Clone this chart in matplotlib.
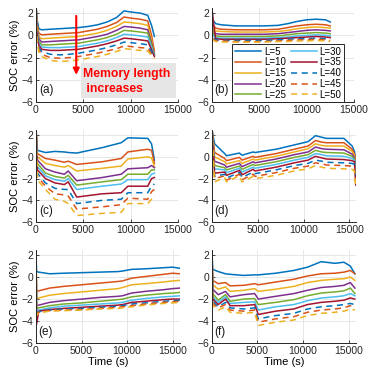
import numpy as np
import matplotlib.pyplot as plt
from matplotlib.patches import Rectangle

plt.rcParams['font.family'] = ['Liberation Sans', 'DejaVu Sans']

labels = ['L=5', 'L=10', 'L=15', 'L=20', 'L=25', 'L=30', 'L=35', 'L=40', 'L=45', 'L=50']

# (a)
t_a = [0, 100, 300, 600, 1500, 2500, 3500, 4500, 5500, 6500, 7500, 8500, 9300, 10000, 11000, 11800, 12200, 12500]
soc_a = [
    [2.8, 1.5, 0.6, 0.5, 0.55, 0.6, 0.65, 0.7, 0.8, 0.95, 1.2, 1.6, 2.2, 2.1, 2.0, 1.8, 0.9, -0.1],
    [2.8, 1.2, 0.2, 0.05, 0.1, 0.15, 0.2, 0.25, 0.4, 0.55, 0.8, 1.15, 1.65, 1.55, 1.45, 1.3, 0.0, -1.4],
    [2.8, 1.0, -0.1, -0.3, -0.25, -0.2, -0.15, -0.1, 0.05, 0.2, 0.45, 0.8, 1.2, 1.15, 1.05, 0.9, -0.4, -1.6],
    [2.8, 0.8, -0.3, -0.6, -0.55, -0.5, -0.45, -0.4, -0.25, -0.1, 0.1, 0.45, 0.8, 0.75, 0.65, 0.5, -0.7, -1.7],
    [2.8, 0.6, -0.5, -0.85, -0.85, -0.8, -0.75, -0.7, -0.55, -0.4, -0.2, 0.1, 0.45, 0.4, 0.3, 0.2, -0.9, -1.8],
    [2.8, 0.4, -0.7, -1.05, -1.1, -1.1, -1.05, -1.0, -0.85, -0.7, -0.5, -0.2, 0.1, 0.05, -0.05, -0.15, -1.1, -1.8],
    [2.8, 0.2, -0.9, -1.25, -1.35, -1.35, -1.3, -1.25, -1.1, -0.95, -0.75, -0.5, -0.25, -0.3, -0.4, -0.5, -1.3, -1.9],
    [2.8, 0.0, -1.1, -1.45, -1.7, -1.75, -1.7, -1.6, -1.45, -1.3, -1.1, -0.85, -0.6, -0.65, -0.75, -0.85, -1.5, -1.9],
    [2.8, -0.2, -1.3, -1.7, -2.0, -2.05, -2.0, -1.9, -1.75, -1.6, -1.4, -1.2, -0.95, -1.0, -1.1, -1.15, -1.7, -2.0],
    [2.8, -0.4, -1.5, -1.9, -2.25, -2.35, -2.3, -2.2, -2.05, -1.9, -1.7, -1.45, -1.2, -1.25, -1.35, -1.4, -1.8, -2.1],
]

# (b)
t_b = [0, 100, 400, 1000, 2500, 4000, 5500, 7000, 8000, 9000, 10000, 11000, 12000, 12500]
soc_b = [
    [2.6, 1.4, 1.05, 0.95, 0.85, 0.85, 0.85, 0.9, 1.05, 1.25, 1.4, 1.45, 1.4, 1.2],
    [2.6, 1.0, 0.65, 0.55, 0.5, 0.5, 0.5, 0.55, 0.7, 0.85, 0.95, 1.0, 0.95, 0.85],
    [2.6, 0.7, 0.4, 0.35, 0.3, 0.3, 0.3, 0.35, 0.45, 0.6, 0.7, 0.75, 0.7, 0.65],
    [2.6, 0.4, 0.15, 0.1, 0.1, 0.1, 0.1, 0.15, 0.25, 0.35, 0.45, 0.5, 0.45, 0.4],
    [2.6, 0.2, -0.05, -0.1, -0.1, -0.1, -0.1, -0.05, 0.05, 0.15, 0.2, 0.25, 0.2, 0.15],
    [2.6, 0.0, -0.2, -0.25, -0.25, -0.25, -0.25, -0.2, -0.15, -0.05, 0.0, 0.05, 0.0, -0.05],
    [2.6, 1.6, -0.3, -0.35, -0.35, -0.35, -0.35, -0.3, -0.25, -0.2, -0.15, -0.1, -0.15, -0.2],
    [2.6, -0.2, -0.4, -0.45, -0.45, -0.45, -0.45, -0.4, -0.35, -0.3, -0.3, -0.25, -0.3, -0.35],
    [2.6, -0.3, -0.5, -0.5, -0.55, -0.55, -0.55, -0.5, -0.45, -0.4, -0.4, -0.35, -0.4, -0.45],
    [2.6, -0.4, -0.55, -0.6, -0.6, -0.6, -0.6, -0.55, -0.55, -0.5, -0.5, -0.45, -0.5, -0.55],
]

# (c)
t_c = [0, 150, 1000, 2000, 3000, 3400, 4300, 7000, 9000, 9700, 11800, 12200, 12500]
soc_c = [
    [2.6, 0.6, 0.4, 0.5, 0.45, 0.4, 0.35, 0.85, 1.3, 1.75, 1.7, 1.2, -0.3],
    [2.6, 0.3, -0.15, -0.3, -0.5, -0.4, -0.7, -0.45, -0.15, 0.45, 0.7, 0.6, -0.6],
    [2.6, 0.0, -0.6, -0.8, -0.95, -0.8, -1.3, -1.05, -0.85, -0.2, 0.0, -0.1, -0.9],
    [2.6, -0.3, -1.1, -1.4, -1.6, -1.3, -2.2, -1.9, -1.6, -1.1, -1.0, -0.8, -1.0],
    [2.6, -0.6, -1.5, -1.8, -1.95, -1.7, -2.6, -2.3, -2.1, -1.6, -1.6, -1.2, -1.2],
    [2.6, -0.9, -1.75, -2.1, -2.25, -2.0, -3.0, -2.7, -2.5, -2.1, -2.1, -1.6, -1.5],
    [2.6, -1.2, -2.0, -2.4, -2.55, -2.3, -3.7, -3.4, -3.3, -2.7, -2.7, -2.0, -1.9],
    [2.6, -1.5, -2.4, -2.9, -3.0, -3.0, -4.3, -4.0, -3.9, -3.3, -3.3, -2.7, -2.5],
    [2.6, -1.8, -2.7, -3.4, -3.5, -3.6, -4.8, -4.6, -4.4, -3.8, -3.9, -3.2, -3.0],
    [2.6, -2.1, -3.0, -3.9, -4.1, -4.3, -5.4, -5.2, -5.1, -4.3, -4.3, -3.9, -3.5],
]

# (d)
t_d = [0, 300, 1400, 1600, 3000, 3300, 4500, 4700, 7000, 9000, 10500, 11300, 12000, 12500, 14400, 15300, 15550, 15700]
soc_d = [
    [2.6, 1.2, 0.3, 0.1, 0.35, 0.15, 0.45, 0.4, 0.7, 1.1, 1.4, 1.95, 1.8, 1.7, 1.7, 1.0, 0.5, -0.3],
    [2.6, 0.4, -0.15, -0.35, -0.05, -0.3, 0.05, -0.05, 0.3, 0.7, 1.0, 1.5, 1.35, 1.3, 1.3, 0.7, 0.3, -0.4],
    [2.6, 0.0, -0.45, -0.65, -0.35, -0.6, -0.2, -0.3, 0.05, 0.45, 0.75, 1.2, 1.05, 1.0, 1.0, 0.5, 0.1, -0.5],
    [2.6, -0.4, -0.75, -0.95, -0.6, -0.9, -0.45, -0.55, -0.2, 0.2, 0.45, 0.9, 0.75, 0.7, 0.65, 0.25, -0.05, -0.7],
    [2.6, -0.8, -1.0, -1.2, -0.85, -1.15, -0.7, -0.8, -0.45, -0.05, 0.2, 0.6, 0.45, 0.4, 0.35, 0.05, -0.2, -1.0],
    [2.6, -1.1, -1.2, -1.45, -1.05, -1.4, -0.95, -1.05, -0.7, -0.3, -0.05, 0.3, 0.2, 0.1, 0.05, -0.15, -0.3, -1.4],
    [2.6, -1.5, -1.4, -1.7, -1.25, -1.65, -1.15, -1.3, -0.95, -0.55, -0.3, 0.05, -0.1, -0.2, -0.25, -0.35, -0.45, -2.6],
    [2.6, -1.8, -1.6, -1.95, -1.45, -1.9, -1.4, -1.55, -1.2, -0.8, -0.6, -0.3, -0.4, -0.5, -0.55, -0.6, -0.7, -2.0],
    [2.6, -2.0, -1.75, -2.15, -1.6, -2.1, -1.6, -1.8, -1.45, -1.05, -0.85, -0.55, -0.65, -0.75, -0.8, -0.85, -0.95, -2.2],
    [2.6, -2.3, -1.9, -2.3, -1.75, -2.3, -1.8, -2.0, -1.7, -1.3, -1.1, -0.8, -0.95, -1.05, -1.1, -1.15, -1.3, -2.9],
]

# (e)
t_e = [0, 60, 300, 1500, 3000, 5000, 7000, 9000, 9500, 10500, 12000, 14000, 15000, 15800]
soc_e = [
    [2.6, 0.5, 0.45, 0.3, 0.35, 0.4, 0.45, 0.5, 0.55, 0.7, 0.75, 0.85, 0.9, 0.8],
    [2.6, -1.3, -1.25, -1.0, -0.85, -0.7, -0.55, -0.4, -0.35, -0.1, 0.05, 0.25, 0.35, 0.3],
    [2.6, -2.0, -1.9, -1.65, -1.5, -1.35, -1.2, -1.05, -0.95, -0.7, -0.6, -0.45, -0.35, -0.3],
    [2.6, -2.6, -2.55, -2.3, -2.15, -2.0, -1.85, -1.75, -1.7, -1.45, -1.3, -1.15, -1.05, -1.0],
    [2.6, -2.9, -2.8, -2.6, -2.45, -2.35, -2.2, -2.05, -2.0, -1.8, -1.65, -1.5, -1.45, -1.4],
    [2.6, -3.1, -3.0, -2.8, -2.65, -2.55, -2.45, -2.35, -2.3, -2.1, -1.95, -1.8, -1.75, -1.7],
    [2.6, -4.3, -3.1, -2.95, -2.85, -2.75, -2.65, -2.55, -2.5, -2.3, -2.2, -2.05, -2.0, -2.0],
    [2.6, -3.3, -3.15, -3.0, -2.9, -2.85, -2.75, -2.65, -2.6, -2.45, -2.35, -2.2, -2.15, -2.1],
    [2.6, -3.4, -3.2, -3.05, -3.0, -2.95, -2.85, -2.75, -2.7, -2.6, -2.45, -2.3, -2.25, -2.2],
    [2.6, -3.5, -3.25, -3.1, -3.05, -3.0, -2.9, -2.85, -2.8, -2.7, -2.55, -2.4, -2.35, -2.3],
]

# (f)
t_f = [0, 100, 700, 1500, 2000, 3500, 4700, 5100, 7000, 9000, 10500, 12000, 13500, 14500, 15200, 15700]
soc_f = [
    [2.6, 0.7, 0.5, 0.3, 0.25, 0.15, 0.2, 0.2, 0.35, 0.6, 0.9, 1.4, 1.25, 1.35, 1.0, 0.3],
    [2.6, -0.3, -0.6, -0.5, -0.8, -0.75, -0.6, -0.7, -0.45, -0.2, 0.1, 0.3, 0.35, 0.45, 0.6, 0.3],
    [2.6, -0.7, -1.1, -0.9, -1.3, -1.2, -1.05, -1.3, -1.1, -0.85, -0.5, -0.3, -0.2, -0.15, 0.0, -0.3],
    [2.6, -1.1, -1.6, -1.3, -1.8, -1.6, -1.5, -2.0, -1.75, -1.5, -1.2, -0.95, -0.85, -0.75, -0.5, -1.0],
    [2.6, -1.5, -2.1, -1.6, -2.2, -2.0, -1.95, -2.5, -2.3, -2.05, -1.7, -1.45, -1.35, -1.25, -1.0, -1.5],
    [2.6, -1.8, -2.3, -1.8, -2.4, -2.3, -2.25, -3.0, -2.7, -2.5, -2.15, -1.9, -1.8, -1.7, -1.5, -1.7],
    [2.6, -2.0, -2.5, -2.0, -2.6, -2.6, -2.5, -3.4, -3.1, -2.9, -2.5, -2.3, -2.2, -2.1, -1.9, -2.0],
    [2.6, -2.2, -2.7, -2.3, -2.8, -2.9, -2.8, -3.8, -3.5, -3.3, -2.9, -2.7, -2.6, -2.5, -2.4, -2.5],
    [2.6, -2.4, -2.8, -2.5, -3.0, -3.1, -3.0, -4.1, -3.8, -3.6, -3.2, -3.0, -2.9, -2.8, -2.6, -2.7],
    [2.6, -2.6, -3.0, -2.7, -3.2, -3.3, -3.2, -4.4, -4.1, -3.9, -3.5, -3.3, -3.2, -3.1, -2.9, -3.0],
]

colors = ['#0072BD', '#D95319', '#EDB120', '#7E2F8E', '#77AC30', '#4DBEEE', '#A2142F',
          '#0072BD', '#D95319', '#EDB120']

panels = [
    ('(a)', t_a, soc_a, [0.097, 0.729, 0.383, 0.251], 15000),
    ('(b)', t_b, soc_b, [0.571, 0.729, 0.383, 0.251], 15000),
    ('(c)', t_c, soc_c, [0.097, 0.411, 0.383, 0.245], 15000),
    ('(d)', t_d, soc_d, [0.571, 0.411, 0.388, 0.245], 15700),
    ('(e)', t_e, soc_e, [0.097, 0.090, 0.388, 0.248], 15800),
    ('(f)', t_f, soc_f, [0.571, 0.090, 0.388, 0.248], 15800),
]

fig = plt.figure(figsize=(3.71, 3.77), dpi=100)
axes = {}
for i, (name, t, soc, pos, xmax) in enumerate(panels):
    ax = fig.add_axes(pos)
    axes[name] = ax
    for j in range(10):
        if j < 7:
            ax.plot(t, soc[j], color=colors[j], lw=1.1, label=labels[j])
        else:
            ax.plot(t, soc[j], color=colors[j], lw=1.1, ls=(0, (4, 3)), label=labels[j])
    ax.set_xlim(0, xmax)
    ax.set_ylim(-6, 2.5)
    ax.set_xticks([0, 5000, 10000, 15000])
    ax.set_yticks([-6, -4, -2, 0, 2])
    ax.grid(True, color='#E3E3E3', lw=0.6)
    ax.set_axisbelow(True)
    for s in ['top', 'right']:
        ax.spines[s].set_visible(False)
    for s in ['left', 'bottom']:
        ax.spines[s].set_color('#262626')
        ax.spines[s].set_linewidth(0.7)
    ax.tick_params(direction='in', length=2, width=0.6, labelsize=7.5, pad=2, colors='#262626')
    ax.text(300, -4.95, name, fontsize=8.5, va='center', ha='left', color='#1a1a1a')
    if i % 2 == 0:
        ax.set_ylabel('SOC error (%)', fontsize=8, labelpad=1)
    if i >= 4:
        ax.set_xlabel('Time (s)', fontsize=8, labelpad=1)

# annotation in (a)
ax = axes['(a)']
ax.add_patch(Rectangle((4700, -5.65), 10100, 3.15, facecolor='#E6E6E6', edgecolor='none', zorder=3))
ax.annotate('', xy=(4250, -3.8), xytext=(4250, 2.0),
            arrowprops=dict(arrowstyle='-|>', color='#FF0000', lw=1.5, mutation_scale=9), zorder=4)
ax.text(5000, -3.5, 'Memory length', color='#FF0000', fontweight='bold', fontsize=8.8, va='center', zorder=5)
ax.text(5000, -4.85, ' increases', color='#FF0000', fontweight='bold', fontsize=8.8, va='center', zorder=5)

# legend in (b)
leg = axes['(b)'].legend(ncol=2, loc='lower right', bbox_to_anchor=(0.93, 0.0), fontsize=7,
                         handlelength=2.7, columnspacing=0.5, labelspacing=0.08, handletextpad=0.3,
                         borderpad=0.25, borderaxespad=0.0, fancybox=False, framealpha=1,
                         edgecolor='#262626')
leg.get_frame().set_linewidth(0.7)

plt.savefig('out.png', dpi=100)
